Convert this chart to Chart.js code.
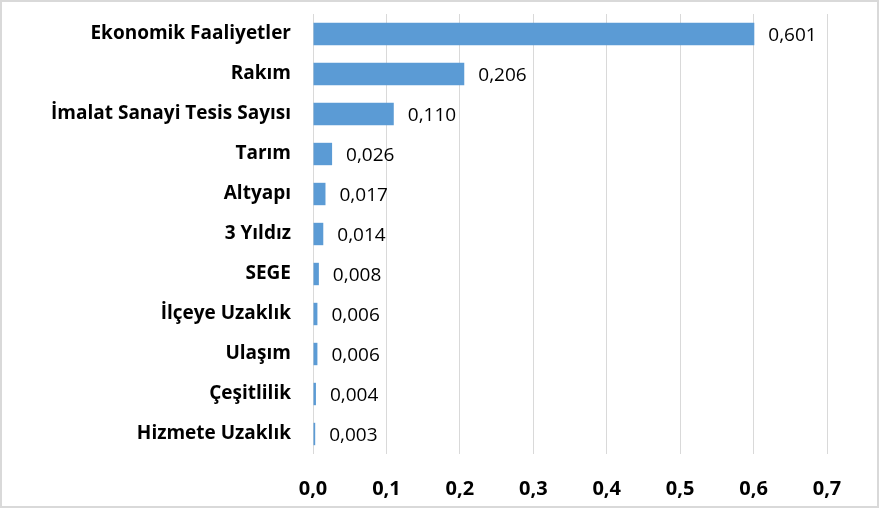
<!DOCTYPE html>
<html>
<head>
<meta charset="utf-8">
<script src="https://cdn.jsdelivr.net/npm/chart.js@4/dist/chart.umd.min.js"></script>
<style>
  html, body { margin: 0; padding: 0; background: #fff; }
  #frame { width: 879px; height: 508px; box-sizing: border-box; border: 2px solid #d9d9d9; background: #fff; }
  #wrap { position: relative; width: 875px; height: 504px; }
</style>
</head>
<body>
<div id="frame"><div id="wrap"><canvas id="chart"></canvas></div></div>
<script>
// Factor names and their weights
const categories = [
  "Ekonomik Faaliyetler", "Rakım", "İmalat Sanayi Tesis Sayısı", "Tarım", "Altyapı",
  "3 Yıldız", "SEGE", "İlçeye Uzaklık", "Ulaşım", "Çeşitlilik", "Hizmete Uzaklık"
];
const weights = [0.601, 0.206, 0.110, 0.026, 0.017, 0.014, 0.008, 0.006, 0.006, 0.004, 0.003];
const axisMax = 0.7;
const axisStep = 0.1;

const FONT = "'Open Sans', sans-serif";

function trNumber(v, digits) {
  return v.toFixed(digits).replace('.', ',');
}

// Writes each weight just past the end of its bar
const valueLabels = {
  id: 'valueLabels',
  afterDatasetsDraw(chart) {
    const ctx = chart.ctx;
    const meta = chart.getDatasetMeta(0);
    ctx.save();
    ctx.font = "19px " + FONT;
    ctx.fillStyle = "#000";
    ctx.textAlign = "left";
    ctx.textBaseline = "middle";
    meta.data.forEach((bar, i) => {
      ctx.fillText(trNumber(chart.data.datasets[0].data[i], 3), bar.x + 14, bar.y + 2);
    });
    ctx.restore();
  }
};

new Chart(document.getElementById('chart'), {
  type: 'bar',
  data: {
    labels: categories,
    datasets: [{
      data: weights,
      backgroundColor: '#5b9bd5',
      borderWidth: 0,
      barPercentage: 0.56,
      categoryPercentage: 1.0
    }]
  },
  options: {
    indexAxis: 'y',
    responsive: true,
    maintainAspectRatio: false,
    animation: false,
    layout: { padding: { top: 12, right: 50, bottom: 0, left: 0 } },
    plugins: { legend: { display: false }, tooltip: { enabled: false } },
    scales: {
      x: {
        min: 0,
        max: axisMax,
        border: { display: false },
        grid: { color: '#d9d9d9', lineWidth: 1, drawTicks: false },
        afterFit(scale) { scale.height = 52; },
        ticks: {
          stepSize: axisStep,
          padding: 23,
          color: '#000',
          font: { family: FONT, size: 20, weight: 'bold' },
          callback: (v) => trNumber(v, 1)
        }
      },
      y: {
        border: { display: false },
        grid: { display: false, drawTicks: false },
        afterFit(scale) {
          scale.width = 311;
          scale.paddingTop = 0;
          scale.paddingBottom = 0;
        },
        ticks: {
          padding: 22,
          color: '#000',
          font: { family: FONT, size: 19, weight: 'bold' }
        }
      }
    }
  },
  plugins: [valueLabels]
});
</script>
</body>
</html>
